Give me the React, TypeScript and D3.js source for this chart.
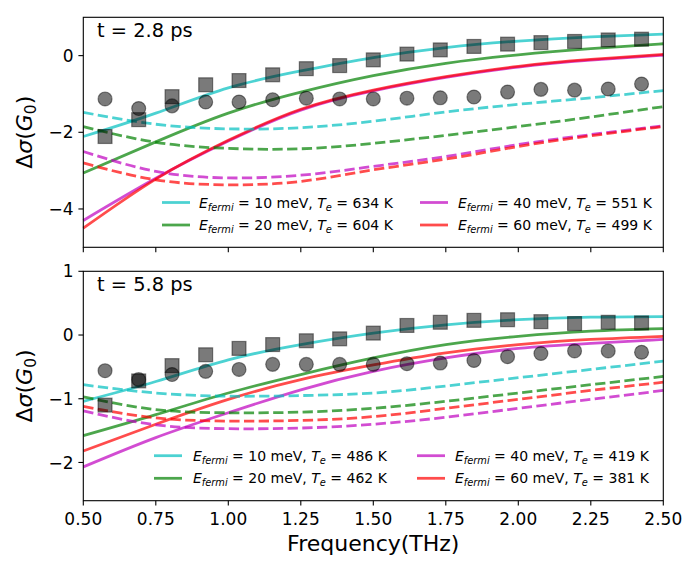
import React from "react";
import * as d3 from "d3";

// ---------- data ----------
const markerFreqs = [0.575, 0.691, 0.806, 0.922, 1.037, 1.153, 1.269, 1.384, 1.5, 1.616, 1.731, 1.847, 1.963, 2.078, 2.194, 2.31, 2.425];
const curveFreqs = [0.5, 0.75, 1.0, 1.25, 1.5, 1.75, 2.0, 2.25, 2.5];
const fermiEnergies = [10, 20, 40, 60];
const xTicks = [0.5, 0.75, 1.0, 1.25, 1.5, 1.75, 2.0, 2.25, 2.5];

// top panel t = 2.8 ps
const topSquares = [-2.11, -1.67, -1.07, -0.76, -0.65, -0.5, -0.34, -0.26, -0.11, 0.04, 0.15, 0.24, 0.3, 0.34, 0.37, 0.41, 0.43];
const topCircles = [-1.13, -1.38, -1.31, -1.21, -1.21, -1.15, -1.11, -1.13, -1.13, -1.11, -1.1, -1.08, -0.95, -0.88, -0.9, -0.87, -0.74];
const topSolid10 = [-2.11, -1.5, -0.84, -0.4, -0.05, 0.21, 0.38, 0.49, 0.56];
const topSolid20 = [-3.06, -2.25, -1.5, -0.95, -0.52, -0.2, 0.02, 0.18, 0.31];
const topSolid40 = [-4.3, -3.2, -2.23, -1.42, -0.92, -0.57, -0.3, -0.12, 0.01];
const topSolid60 = [-4.5, -3.22, -2.21, -1.4, -0.9, -0.55, -0.28, -0.1, 0.03];
const topDashed10 = [-1.48, -1.79, -1.91, -1.88, -1.71, -1.47, -1.27, -1.1, -0.91];
const topDashed20 = [-1.85, -2.26, -2.42, -2.43, -2.29, -2.08, -1.85, -1.6, -1.33];
const topDashed40 = [-2.5, -3.02, -3.19, -3.12, -2.89, -2.63, -2.32, -2.06, -1.83];
const topDashed60 = [-2.8, -3.24, -3.37, -3.28, -2.98, -2.7, -2.37, -2.09, -1.85];
const topTemps = [634, 604, 551, 499];
const topYTicks = [-4, -2, 0];

// bottom panel t = 5.8 ps
const botSquares = [-1.1, -0.72, -0.48, -0.31, -0.21, -0.15, -0.09, -0.06, 0.03, 0.15, 0.2, 0.23, 0.24, 0.21, 0.18, 0.2, 0.19];
const botCircles = [-0.56, -0.7, -0.62, -0.57, -0.54, -0.46, -0.46, -0.46, -0.46, -0.45, -0.44, -0.4, -0.34, -0.29, -0.25, -0.25, -0.27];
const botSolid10 = [-1.04, -0.73, -0.39, -0.15, 0.03, 0.16, 0.24, 0.28, 0.29];
const botSolid20 = [-1.58, -1.25, -0.91, -0.62, -0.36, -0.15, -0.02, 0.06, 0.1];
const botSolid40 = [-2.07, -1.61, -1.22, -0.86, -0.57, -0.36, -0.21, -0.13, -0.07];
const botSolid60 = [-1.82, -1.4, -1.01, -0.7, -0.47, -0.28, -0.15, -0.07, -0.02];
const botDashed10 = [-0.78, -0.91, -0.96, -0.95, -0.91, -0.8, -0.67, -0.54, -0.41];
const botDashed20 = [-0.97, -1.17, -1.22, -1.21, -1.15, -1.04, -0.91, -0.78, -0.65];
const botDashed40 = [-1.19, -1.41, -1.47, -1.46, -1.4, -1.29, -1.15, -1.01, -0.87];
const botDashed60 = [-1.12, -1.3, -1.35, -1.34, -1.28, -1.15, -1.01, -0.87, -0.74];
const botTemps = [486, 462, 419, 381];
const botYTicks = [-2, -1, 0, 1];

const colors = ["#00bfbf", "#008000", "#bf00bf", "#ff0000"];

// ---------- layout ----------
const W = 700;
const H = 566;
const left = 83.3;
const right = 663.3;
const FONT = "DejaVu Sans, sans-serif";

const xScale = d3.scaleLinear().domain([0.5, 2.5]).range([left, right]);

type PanelProps = {
  top: number;
  bottom: number;
  yDomain: [number, number];
  yTicks: number[];
  squares: number[];
  circles: number[];
  solids: number[][];
  dashes: number[][];
  temps: number[];
  label: string;
  showXLabels: boolean;
  legend: { c1Line: number; c1Text: number; c2Line: number; c2Text: number; r1: number; r2: number };
};

const fmtTick = (v: number) => (v < 0 ? "\u2212" + Math.abs(v) : String(v));

function LegendEntry({ x, tx, y, color, e, t }: { x: number; tx: number; y: number; color: string; e: number; t: number }) {
  return (
    <g>
      <line x1={x} x2={x + 28} y1={y} y2={y} stroke={color} strokeOpacity={0.7} strokeWidth={2.78} />
      <text x={tx} y={y + 5} fontFamily={FONT} fontSize={14} fill="#000">
        <tspan fontStyle="italic">E</tspan>
        <tspan fontStyle="italic" fontSize={9.8} dy={3}>fermi</tspan>
        <tspan dy={-3}>{` = ${e} meV, `}</tspan>
        <tspan fontStyle="italic">T</tspan>
        <tspan fontStyle="italic" fontSize={9.8} dy={3}>e</tspan>
        <tspan dy={-3}>{` = ${t} K`}</tspan>
      </text>
    </g>
  );
}

function Panel(p: PanelProps) {
  const y = d3.scaleLinear().domain(p.yDomain).range([p.bottom, p.top]);
  const line = d3
    .line<number>()
    .x((_, i) => xScale(curveFreqs[i]))
    .y((v) => y(v))
    .curve(d3.curveNatural);
  const ms = 13.9;
  return (
    <g>
      {p.solids.map((s, i) => (
        <path key={"s" + i} d={line(s) || ""} fill="none" stroke={colors[i]} strokeOpacity={0.7} strokeWidth={2.78} />
      ))}
      {p.dashes.map((s, i) => (
        <path
          key={"d" + i}
          d={line(s) || ""}
          fill="none"
          stroke={colors[i]}
          strokeOpacity={0.7}
          strokeWidth={2.78}
          strokeDasharray="10.3,4.4"
        />
      ))}
      {p.squares.map((v, i) => (
        <rect
          key={"q" + i}
          x={xScale(markerFreqs[i]) - ms / 2}
          y={y(v) - ms / 2}
          width={ms}
          height={ms}
          fill="#000"
          fillOpacity={0.52}
          stroke="#000"
          strokeOpacity={0.45}
          strokeWidth={1.2}
        />
      ))}
      {p.circles.map((v, i) => (
        <circle
          key={"c" + i}
          cx={xScale(markerFreqs[i])}
          cy={y(v)}
          r={ms / 2}
          fill="#000"
          fillOpacity={0.52}
          stroke="#000"
          strokeOpacity={0.45}
          strokeWidth={1.2}
        />
      ))}
      {/* frame */}
      <rect x={left} y={p.top} width={right - left} height={p.bottom - p.top} fill="none" stroke="#000" strokeWidth={1.1} />
      {/* x ticks */}
      {xTicks.map((t) => (
        <g key={"xt" + t}>
          <line x1={xScale(t)} x2={xScale(t)} y1={p.bottom} y2={p.bottom + 4.9} stroke="#000" strokeWidth={1.1} />
          {p.showXLabels && (
            <text x={xScale(t)} y={p.bottom + 24.3} textAnchor="middle" fontFamily={FONT} fontSize={17} fill="#000">
              {t.toFixed(2)}
            </text>
          )}
        </g>
      ))}
      {/* y ticks */}
      {p.yTicks.map((t) => (
        <g key={"yt" + t}>
          <line x1={left - 4.9} x2={left} y1={y(t)} y2={y(t)} stroke="#000" strokeWidth={1.1} />
          <text x={left - 9.8} y={y(t)} dy="0.36em" textAnchor="end" fontFamily={FONT} fontSize={17} fill="#000">
            {fmtTick(t)}
          </text>
        </g>
      ))}
      <text x={97} y={p.top + 19.2} fontFamily={FONT} fontSize={19.4} fill="#000">
        {p.label}
      </text>
      {/* y axis label */}
      <text
        transform={`translate(32, ${(p.top + p.bottom) / 2}) rotate(-90)`}
        textAnchor="middle"
        fontFamily={FONT}
        fontSize={22}
        fill="#000"
      >
        <tspan>Δ</tspan>
        <tspan fontStyle="italic">σ</tspan>
        <tspan>(</tspan>
        <tspan fontStyle="italic">G</tspan>
        <tspan fontSize={15.4} dy={4}>0</tspan>
        <tspan dy={-4}>)</tspan>
      </text>
      {/* legend */}
      <LegendEntry x={p.legend.c1Line} tx={p.legend.c1Text} y={p.legend.r1} color={colors[0]} e={fermiEnergies[0]} t={p.temps[0]} />
      <LegendEntry x={p.legend.c1Line} tx={p.legend.c1Text} y={p.legend.r2} color={colors[1]} e={fermiEnergies[1]} t={p.temps[1]} />
      <LegendEntry x={p.legend.c2Line} tx={p.legend.c2Text} y={p.legend.r1} color={colors[2]} e={fermiEnergies[2]} t={p.temps[2]} />
      <LegendEntry x={p.legend.c2Line} tx={p.legend.c2Text} y={p.legend.r2} color={colors[3]} e={fermiEnergies[3]} t={p.temps[3]} />
    </g>
  );
}

export default function App() {
  return (
    <svg
      width={W}
      height={H}
      viewBox={`0 0 ${W} ${H}`}
      style={{ position: "absolute", left: 0, top: 0, background: "#fff" }}
    >
      <rect x={0} y={0} width={W} height={H} fill="#fff" />
      <Panel
        top={17.3}
        bottom={247.3}
        yDomain={[-5, 1]}
        yTicks={topYTicks}
        squares={topSquares}
        circles={topCircles}
        solids={[topSolid10, topSolid20, topSolid40, topSolid60]}
        dashes={[topDashed10, topDashed20, topDashed40, topDashed60]}
        temps={topTemps}
        label="t = 2.8 ps"
        showXLabels={false}
        legend={{ c1Line: 162, c1Text: 199, c2Line: 420, c2Text: 458, r1: 202.5, r2: 225 }}
      />
      <Panel
        top={271.3}
        bottom={500.7}
        yDomain={[-2.6, 1]}
        yTicks={botYTicks}
        squares={botSquares}
        circles={botCircles}
        solids={[botSolid10, botSolid20, botSolid40, botSolid60]}
        dashes={[botDashed10, botDashed20, botDashed40, botDashed60]}
        temps={botTemps}
        label="t = 5.8 ps"
        showXLabels={true}
        legend={{ c1Line: 154, c1Text: 193, c2Line: 417, c2Text: 455, r1: 455.7, r2: 478.3 }}
      />
      <text x={(left + right) / 2} y={551} textAnchor="middle" fontFamily={FONT} fontSize={22} fill="#000">
        Frequency(THz)
      </text>
    </svg>
  );
}
